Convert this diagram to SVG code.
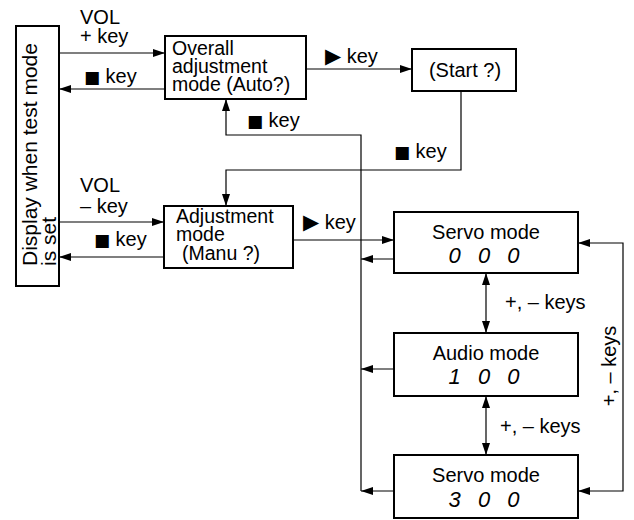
<svg xmlns="http://www.w3.org/2000/svg" width="634" height="520" viewBox="0 0 634 520">
<defs>
<style>
text{font-family:"Liberation Sans",Arial,sans-serif;font-size:20px;fill:#000}
.box{fill:#fff;stroke:#000;stroke-width:2}
.ln{fill:none;stroke:#000;stroke-width:1.2}
.dg{font-style:italic;font-size:22px;word-spacing:11px;text-anchor:middle}
.c{text-anchor:middle}
.sym{font-family:"DejaVu Sans",sans-serif;font-size:17px}
.tri{font-family:"DejaVu Sans",sans-serif;font-size:21px}
.bt{font-size:19.5px}
</style>
<marker id="ah" viewBox="0 0 12 8" refX="12" refY="4" markerWidth="12" markerHeight="8" markerUnits="userSpaceOnUse" orient="auto-start-reverse">
<path d="M0,0 L12,4 L0,8 Z" fill="#000"/>
</marker>
</defs>
<g id="connectors">
<path class="ln" d="M59,53 H165" marker-end="url(#ah)"/>
<path class="ln" d="M165,89 H59" marker-end="url(#ah)"/>
<path class="ln" d="M306,69 H412" marker-end="url(#ah)"/>
<path class="ln" d="M461,91 V170 H226 V206" marker-end="url(#ah)"/>
<path class="ln" d="M361,491 V135 H226 V99" marker-end="url(#ah)"/>
<path class="ln" d="M394,259 H361" marker-end="url(#ah)"/>
<path class="ln" d="M394,369 H361" marker-end="url(#ah)"/>
<path class="ln" d="M394,491 H361" marker-end="url(#ah)"/>
<path class="ln" d="M59,222 H164" marker-end="url(#ah)"/>
<path class="ln" d="M164,257 H59" marker-end="url(#ah)"/>
<path class="ln" d="M293,240 H394" marker-end="url(#ah)"/>
<path class="ln" d="M623,367 V243 H578" marker-end="url(#ah)"/>
<path class="ln" d="M623,367 V491 H578" marker-end="url(#ah)"/>
<path class="ln" d="M486,273 V333" marker-start="url(#ah)" marker-end="url(#ah)"/>
<path class="ln" d="M486,396 V455" marker-start="url(#ah)" marker-end="url(#ah)"/>
<text x="80" y="24">VOL</text>
<text x="80" y="43">+ key</text>
<text x="84" y="83"><tspan class="sym">■</tspan> key</text>
<text x="325" y="63"><tspan class="tri">▶</tspan> key</text>
<text x="247" y="127"><tspan class="sym">■</tspan> key</text>
<text x="394" y="158"><tspan class="sym">■</tspan> key</text>
<text x="80" y="192">VOL</text>
<text x="80" y="213">– key</text>
<text x="94" y="246"><tspan class="sym">■</tspan> key</text>
<text x="303" y="229"><tspan class="tri">▶</tspan> key</text>
<text x="505" y="309">+, – keys</text>
<text x="500" y="433">+, – keys</text>
<text class="c" transform="translate(616,366) rotate(-90)">+, – keys</text>
</g>
<g id="display">
<rect class="box" x="16" y="26" width="43" height="260"/>
<text transform="translate(37,266) rotate(-90)" style="font-size:21px">Display when test mode</text>
<text transform="translate(56,266) rotate(-90)" style="font-size:21px">is set</text>
</g>
<g id="overall">
<rect class="box" x="165" y="36" width="141" height="63"/>
<text class="bt" x="172" y="55">Overall</text>
<text class="bt" x="172" y="73">adjustment</text>
<text class="bt" x="172" y="91">mode (Auto?)</text>
</g>
<g id="start">
<rect class="box" x="412" y="49" width="104" height="42"/>
<text class="c" x="465" y="77">(Start ?)</text>
</g>
<g id="adjustment">
<rect class="box" x="164" y="206" width="129" height="62"/>
<text class="bt" x="176" y="223">Adjustment</text>
<text class="bt" x="176" y="241">mode</text>
<text class="bt" x="182" y="260">(Manu ?)</text>
</g>
<g id="servo000">
<rect class="box" x="394" y="212" width="184" height="61"/>
<text class="c" x="486" y="239">Servo mode</text>
<text class="dg" x="484" y="263">0 0 0</text>
</g>
<g id="audio100">
<rect class="box" x="394" y="333" width="184" height="63"/>
<text class="c" x="486" y="360">Audio mode</text>
<text class="dg" x="484" y="384">1 0 0</text>
</g>
<g id="servo300">
<rect class="box" x="394" y="455" width="184" height="63"/>
<text class="c" x="486" y="482">Servo mode</text>
<text class="dg" x="484" y="507">3 0 0</text>
</g>
</svg>
